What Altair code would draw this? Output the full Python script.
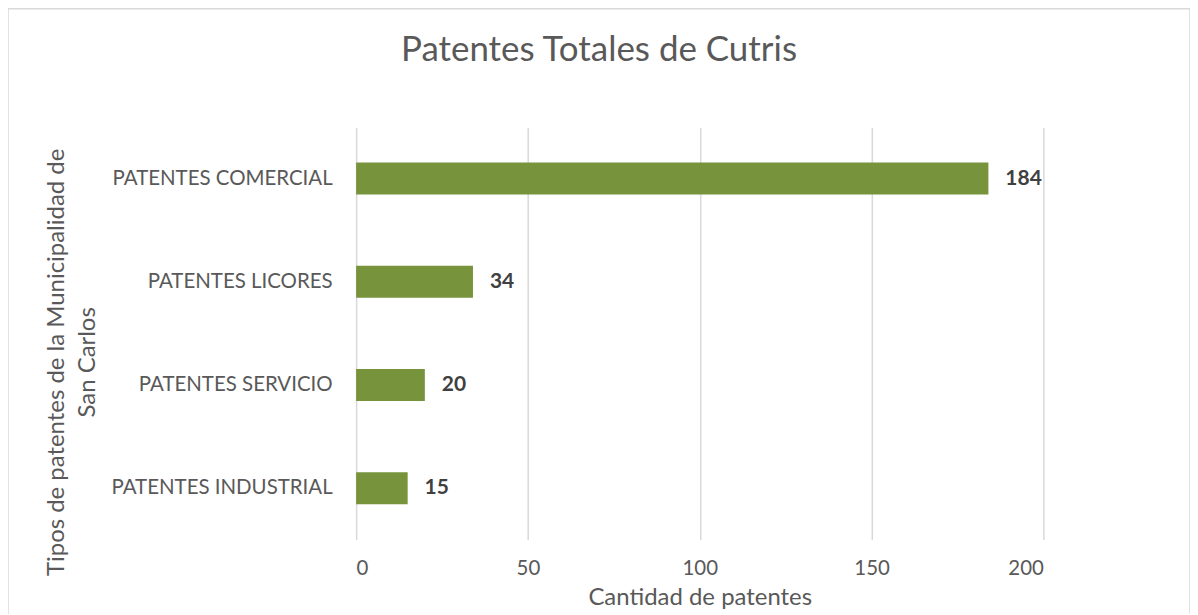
import altair as alt
import pandas as pd

categories = ["PATENTES COMERCIAL", "PATENTES LICORES", "PATENTES SERVICIO", "PATENTES INDUSTRIAL"]
values = [184, 34, 20, 15]
x_ticks = [0, 50, 100, 150, 200]

df = pd.DataFrame({"tipo": categories, "cantidad": values})

FONT = "Lato"
GREY = "#595959"

y_enc = alt.Y(
    "tipo:N",
    sort=categories,
    scale=alt.Scale(paddingInner=0.69, paddingOuter=0.34),
    axis=alt.Axis(
        title=["Tipos de patentes de la Municipalidad de", "San Carlos"],
        titleFont=FONT, titleFontSize=24, titleFontWeight="normal", titleColor=GREY,
        titleX=-300, titleY=235, titleBaseline="middle", titleLineHeight=31,
        titleAngle=270,
        labelFont=FONT, labelFontSize=20.5, labelColor=GREY, labelPadding=24,
        labelLimit=400,
        ticks=False, domain=False, grid=False,
    ),
)

x_enc = alt.X(
    "cantidad:Q",
    scale=alt.Scale(domain=[0, 200], nice=False),
    axis=alt.Axis(
        title="Cantidad de patentes", values=x_ticks,
        titleFont=FONT, titleFontSize=24, titleFontWeight="normal", titleColor=GREY,
        titlePadding=7,
        labelFont=FONT, labelFontSize=20.5, labelColor=GREY, labelPadding=19,
        ticks=False, domain=False, grid=True, gridColor="#d9d9d9", gridWidth=1.5,
    ),
)

bars = alt.Chart(df).mark_bar(color="#77933C").encode(x=x_enc, y=y_enc)

labels = alt.Chart(df).mark_text(
    align="left", baseline="middle", dx=17, font=FONT, fontSize=21,
    fontWeight="bold", color="#404040"
).encode(x="cantidad:Q", y=alt.Y("tipo:N", sort=categories), text="cantidad:Q")

border = alt.Chart(df).mark_rect(
    fill=None, stroke="#d9d9d9", strokeWidth=1.5, clip=False
).encode(
    x=alt.value(-349), x2=alt.value(836), y=alt.value(-119), y2=alt.value(520)
).transform_filter(alt.datum.tipo == categories[0])

chart = alt.layer(border, bars, labels).properties(
    width=689, height=413,
    padding={"left": 349, "top": 119, "right": 147, "bottom": 74},
    autosize=alt.AutoSizeParams(type="none"),
    title=alt.TitleParams(
        "Patentes Totales de Cutris", font=FONT, fontSize=35, fontWeight="normal",
        color=GREY, frame="bounds", anchor="middle", offset=-60,
    ),
).configure_view(stroke=None)

chart.save("out.html", embed_options={"renderer": "svg", "actions": False})
